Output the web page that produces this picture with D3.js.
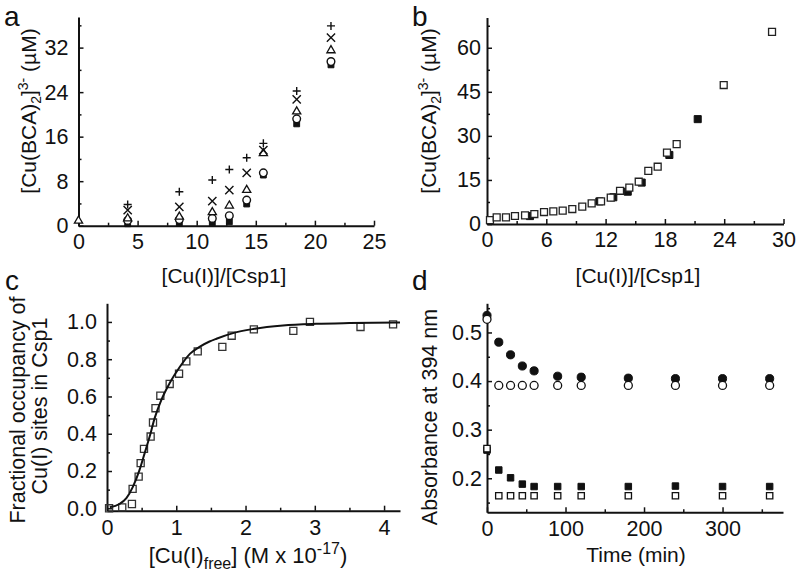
<!DOCTYPE html>
<html><head><meta charset="utf-8">
<script src="https://cdn.jsdelivr.net/npm/d3@7"></script>
<style>body{margin:0;background:#fff} svg{display:block}</style>
</head><body><svg id="c" width="800" height="579"></svg>
<script>
// ---------- Panel a data ----------
const aX = [0, 4.16, 8.53, 11.32, 12.76, 14.23, 15.64, 18.46, 21.36];
const aPlus     = [null, 3.8, 6.1, 8.2, 10.1, 12.2, 14.8, 24.2, 35.9];
const aTimes    = [null, 2.8, 3.4, 4.4, 6.4, 9.5, 13.6, 22.7, 33.8];
const aTriangle = [0.9, 1.3, 1.6, 2.4, 3.6, 6.4, 13.0, 20.5, 31.5];
const aCircle   = [null, 0.95, 1.1, 1.3, 1.8, 4.6, 9.5, 19.2, 29.5];
const aSquare   = [null, 0.35, 0.5, 0.5, 0.7, 3.9, 9.1, 18.3, 28.9];
const aXTicks = [0, 5, 10, 15, 20, 25];
const aYTicks = [0, 8, 16, 24, 32];

// ---------- Panel b data ----------
const bOpenX = [0.3, 0.98, 1.92, 2.83, 3.85, 4.79, 5.77, 6.71, 7.66, 8.63, 9.64, 10.59, 11.54, 12.52, 13.46, 14.4, 15.35, 16.32, 17.27, 18.21, 19.19, 23.95, 28.84];
const bOpenY = [1.3, 2.27, 2.27, 2.72, 2.95, 3.4, 4.08, 4.31, 4.54, 5.1, 5.9, 7.03, 7.71, 8.96, 11.3, 12.4, 14.4, 18.1, 19.5, 24.3, 27.2, 47.3, 65.4];
const bFillX = [4.35, 11.37, 12.78, 14.24, 15.65, 18.45, 21.32];
const bFillY = [2.7, 7.7, 9.1, 11.0, 14.1, 23.5, 35.7];
const bXTicks = [0, 6, 12, 18, 24, 30];
const bYTicks = [0, 15, 30, 45, 60];

// ---------- Panel c data ----------
const cX = [0.03, 0.22, 0.36, 0.37, 0.457, 0.486, 0.534, 0.63, 0.664, 0.70, 0.77, 0.905, 1.04, 1.145, 1.31, 1.665, 1.80, 2.12, 2.69, 2.93, 3.66, 4.13];
const cY = [0.0, 0.005, 0.023, 0.104, 0.17, 0.242, 0.319, 0.385, 0.46, 0.537, 0.604, 0.667, 0.722, 0.788, 0.842, 0.866, 0.926, 0.96, 0.952, 1.0, 0.973, 0.987];
const cFitX = [0.04, 0.18, 0.28, 0.375, 0.47, 0.544, 0.616, 0.688, 0.785, 0.905, 1.05, 1.2, 1.33, 1.48, 1.58, 1.82, 2.11, 2.54, 3.02, 3.5, 4.23];
const cFitY = [0.005, 0.023, 0.054, 0.116, 0.206, 0.296, 0.385, 0.484, 0.582, 0.672, 0.758, 0.83, 0.865, 0.895, 0.91, 0.94, 0.962, 0.981, 0.99, 0.994, 0.997];
const cXTicks = [0, 1, 2, 3, 4];
const cYTicks = [0, 0.2, 0.4, 0.6, 0.8, 1.0];

// ---------- Panel d data ----------
const dTime = [0, 15, 30, 45, 60, 90, 120, 180, 240, 300, 360];
const dFilledCircle = [0.535, 0.480, 0.454, 0.431, 0.421, 0.410, 0.408, 0.406, 0.405, 0.405, 0.405];
const dOpenCircle   = [0.527, 0.391, 0.391, 0.391, 0.391, 0.391, 0.391, 0.391, 0.391, 0.391, 0.391];
const dFilledSquare = [0.258, 0.217, 0.201, 0.188, 0.183, 0.183, 0.183, 0.183, 0.184, 0.183, 0.183];
const dOpenSquare   = [0.261, 0.164, 0.164, 0.164, 0.164, 0.164, 0.164, 0.164, 0.164, 0.164, 0.164];
const dXTicks = [0, 100, 200, 300];
const dYTicks = [0.2, 0.3, 0.4, 0.5];

const FONT = "'Liberation Sans', Arial, Helvetica, sans-serif";
const svg = d3.select("#c");
svg.append("rect").attr("width", 800).attr("height", 579).attr("fill", "#fff");

function drawAxes(o) {
  const g = svg.append("g");
  g.append("g").attr("transform", `translate(0,${o.y.range()[0]})`)
    .call(d3.axisBottom(o.x).tickValues(o.xMinor).tickSizeInner(-3).tickSizeOuter(0).tickFormat(""))
    .call(s => s.select(".domain").remove());
  g.append("g").attr("transform", `translate(${o.x.range()[0]},0)`)
    .call(d3.axisLeft(o.y).tickValues(o.yMinor).tickSizeInner(-3).tickSizeOuter(0).tickFormat(""))
    .call(s => s.select(".domain").remove());
  g.append("g").attr("transform", `translate(0,${o.y.range()[0]})`)
    .call(d3.axisBottom(o.x).tickValues(o.xMajor).tickSizeInner(-5).tickSizeOuter(0)
      .tickPadding(o.xPad).tickFormat(o.xFmt));
  g.append("g").attr("transform", `translate(${o.x.range()[0]},0)`)
    .call(d3.axisLeft(o.y).tickValues(o.yMajor).tickSizeInner(-5).tickSizeOuter(0)
      .tickPadding(o.yPad).tickFormat(o.yFmt));
  g.selectAll(".domain").attr("stroke", "#111").attr("stroke-width", 2);
  g.selectAll(".tick line").attr("stroke", "#111").attr("stroke-width", 1.5);
  g.selectAll(".tick text").attr("font-family", FONT).attr("font-size", 21.5).attr("fill", "#111");
}

function sym(g, type, size, xs, ys, sx, sy, fill, stroke, sw) {
  const pts = xs.map((v, i) => [v, ys[i]]).filter(p => p[1] != null);
  g.selectAll(null).data(pts).join("path")
    .attr("transform", p => `translate(${sx(p[0])},${sy(p[1])})`)
    .attr("d", d3.symbol().type(type).size(size))
    .attr("fill", fill).attr("stroke", stroke).attr("stroke-width", sw);
}

function txt(x, y, s, size, anchor) {
  return svg.append("text").attr("x", x).attr("y", y).attr("font-family", FONT)
    .attr("font-size", size).attr("text-anchor", anchor || "middle").attr("fill", "#111").text(s);
}

function vtxt(x, y, s) {
  return svg.append("text").attr("transform", `translate(${x},${y}) rotate(-90)`).attr("font-family", FONT)
    .attr("font-size", 21.5).attr("text-anchor", "middle").attr("fill", "#111").text(s);
}

function bcaTitle(x, y) {
  const t = svg.append("text").attr("transform", `translate(${x},${y}) rotate(-90)`)
    .attr("font-family", FONT).attr("font-size", 21).attr("text-anchor", "middle").attr("fill", "#111");
  t.append("tspan").text("[Cu(BCA)");
  t.append("tspan").attr("font-size", 14).attr("dy", 5).text("2");
  t.append("tspan").attr("dy", -5).text("]");
  t.append("tspan").attr("font-size", 14).attr("dy", -8).text("3-");
  t.append("tspan").attr("dy", 8).text(" (µM)");
}

// ================= Panel a =================
{
  const x = d3.scaleLinear().domain([0, 25]).range([78.5, 374]);
  const y = d3.scaleLinear().domain([0, 37.5]).range([225.7, 17]);
  drawAxes({x, y, xMajor: aXTicks, xMinor: [2.5, 7.5, 12.5, 17.5, 22.5],
    yMajor: aYTicks, yMinor: [4, 12, 20, 28, 36], xFmt: d3.format("d"), yFmt: d3.format("d"), xPad: 8, yPad: 10});
  const g = svg.append("g");
  sym(g, d3.symbolSquare, 34, aX, aSquare, x, y, "#111", "#111", 1);
  sym(g, d3.symbolCircle, 46, aX, aCircle, x, y, "#fff", "#111", 1.4);
  sym(g, d3.symbolTriangle2, 48, aX, aTriangle, x, y, "#fff", "#111", 1.3);
  sym(g, d3.symbolTimes, 46, aX, aTimes, x, y, "none", "#111", 1.4);
  sym(g, d3.symbolPlus, 23, aX, aPlus, x, y, "none", "#111", 1.4);
  txt(224, 283, "[Cu(I)]/[Csp1]", 21);
  bcaTitle(36, 111);
  txt(4, 26, "a", 28, "start");
}

// ================= Panel b =================
{
  const x = d3.scaleLinear().domain([0, 30]).range([487, 783.5]);
  const y = d3.scaleLinear().domain([0, 70.3]).range([224, 17.5]);
  drawAxes({x, y, xMajor: bXTicks, xMinor: [3, 9, 15, 21, 27],
    yMajor: bYTicks, yMinor: [7.5, 22.5, 37.5, 52.5, 67.5], xFmt: d3.format("d"), yFmt: d3.format("d"), xPad: 8, yPad: 6});
  const g = svg.append("g");
  sym(g, d3.symbolSquare, 50, bFillX, bFillY, x, y, "#111", "#111", 1);
  sym(g, d3.symbolSquare, 48, bOpenX, bOpenY, x, y, "#fff", "#222", 1.3);
  txt(638, 283, "[Cu(I)]/[Csp1]", 21);
  bcaTitle(436, 111);
  txt(412, 26, "b", 28, "start");
}

// ================= Panel c =================
{
  const x = d3.scaleLinear().domain([0, 4.23]).range([107, 400]);
  const y = d3.scaleLinear().domain([-0.013, 1.1]).range([510.7, 303.3]);
  drawAxes({x, y, xMajor: cXTicks, xMinor: [0.5, 1.5, 2.5, 3.5],
    yMajor: cYTicks, yMinor: [0.1, 0.3, 0.5, 0.7, 0.9], xFmt: d3.format("d"), yFmt: d3.format(".1f"), xPad: 9, yPad: 10});
  const g = svg.append("g");
  sym(g, d3.symbolSquare, 50, cX, cY, x, y, "none", "#333", 1.3);
  const line = d3.line().x(d => x(d[0])).y(d => y(d[1])).curve(d3.curveMonotoneX);
  g.append("path").datum(cFitX.map((v, i) => [v, cFitY[i]]))
    .attr("d", line).attr("fill", "none").attr("stroke", "#111").attr("stroke-width", 2);
  const t = svg.append("text").attr("x", 248).attr("y", 563).attr("font-family", FONT)
    .attr("font-size", 22).attr("text-anchor", "middle").attr("fill", "#111");
  t.append("tspan").text("[Cu(I)");
  t.append("tspan").attr("font-size", 16).attr("dy", 6).text("free");
  t.append("tspan").attr("dy", -6).text("] (M x 10");
  t.append("tspan").attr("font-size", 16).attr("dy", -9).text("-17");
  t.append("tspan").attr("dy", 9).text(")");
  vtxt(25, 410, "Fractional occupancy of");
  vtxt(47, 406, "Cu(I) sites in Csp1");
  txt(5, 290, "c", 28, "start");
}

// ================= Panel d =================
{
  const x = d3.scaleLinear().domain([0, 377]).range([487, 783]);
  const y = d3.scaleLinear().domain([0.13, 0.56]).range([512.3, 303.3]);
  drawAxes({x, y, xMajor: dXTicks, xMinor: [50, 150, 250, 350],
    yMajor: dYTicks, yMinor: [0.15, 0.25, 0.35, 0.45, 0.55], xFmt: d3.format("d"), yFmt: d3.format(".1f"), xPad: 8, yPad: 5});
  const g = svg.append("g");
  sym(g, d3.symbolCircle, 52, dTime, dFilledCircle, x, y, "#111", "#111", 1);
  sym(g, d3.symbolCircle, 50, dTime, dOpenCircle, x, y, "#fff", "#111", 1.3);
  sym(g, d3.symbolSquare, 42, dTime, dFilledSquare, x, y, "#111", "#111", 1);
  sym(g, d3.symbolSquare, 40, dTime, dOpenSquare, x, y, "#fff", "#111", 1.3);
  txt(636, 562, "Time (min)", 21);
  vtxt(437, 417, "Absorbance at 394 nm");
  txt(412, 290, "d", 28, "start");
}
</script></body></html>
